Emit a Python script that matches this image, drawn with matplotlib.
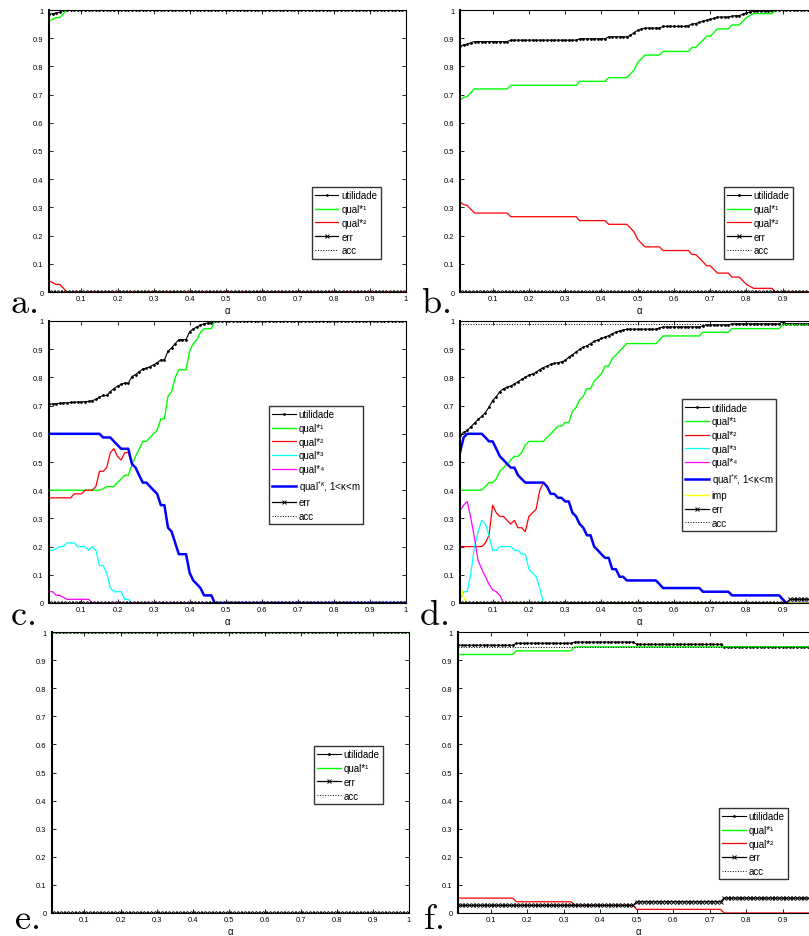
import matplotlib
matplotlib.use("Agg")
import matplotlib.pyplot as plt
import numpy as np

plt.rcParams["font.family"] = ["Liberation Sans", "DejaVu Sans"]
plt.rcParams["mathtext.fontset"] = "custom"
plt.rcParams["mathtext.rm"] = "Liberation Sans"
plt.rcParams["mathtext.it"] = "Liberation Sans:italic"
plt.rcParams["mathtext.bf"] = "Liberation Sans:bold"

# alpha values 0.01 ... 1.00, shared by all six runs
alpha = np.arange(1, 101) / 100.0

# a.
a_util = [0.986, 0.986, 0.99, 0.992] + [1.0] * 96
a_q1 = [0.96, 0.967, 0.973, 0.973, 0.987] + [1.0] * 95
a_q2 = [0.04, 0.033, 0.027, 0.027, 0.013] + [0.0] * 95
a_err = [0.0] * 100
a_acc = [1.0] * 100

# b.
b_util = ([0.872, 0.876, 0.878, 0.884] + [0.888] * 10 + [0.893] * 19 + [0.898] * 8
          + [0.905] * 6 + [0.91, 0.92, 0.928, 0.932] + [0.936] * 5 + [0.942] * 7
          + [0.945, 0.95, 0.952, 0.956, 0.96, 0.964, 0.967, 0.97] + [0.975] * 4
          + [0.978, 0.98, 0.98, 0.985, 0.99, 0.993] + [0.996] * 6 + [1.0] * 13)
b_q1 = ([0.68, 0.69, 0.693, 0.707] + [0.72] * 10 + [0.733] * 19 + [0.747] * 8
        + [0.76] * 6 + [0.773, 0.787, 0.813, 0.827] + [0.84] * 5 + [0.853] * 8
        + [0.867, 0.867, 0.88, 0.893, 0.907, 0.907, 0.92] + [0.933] * 4 + [0.947] * 3
        + [0.96, 0.973, 0.98] + [0.987] * 6 + [1.0] * 13)
b_q2 = ([0.32, 0.31, 0.307, 0.293] + [0.28] * 10 + [0.267] * 19 + [0.253] * 8
        + [0.24] * 6 + [0.227, 0.213, 0.187, 0.173] + [0.16] * 5 + [0.147] * 8
        + [0.133, 0.133, 0.12, 0.107, 0.093, 0.093, 0.08] + [0.067] * 4 + [0.053] * 3
        + [0.04, 0.027, 0.02] + [0.013] * 6 + [0.0] * 13)
b_err = [0.0] * 100
b_acc = [1.0] * 100

# c.
c_util = [0.705, 0.706, 0.707, 0.708, 0.71, 0.71, 0.711, 0.712, 0.713, 0.713,
          0.714, 0.715, 0.718, 0.722, 0.73, 0.736, 0.736, 0.75, 0.76, 0.769,
          0.775, 0.78, 0.78, 0.803, 0.81, 0.82, 0.83, 0.832, 0.838, 0.845,
          0.852, 0.862, 0.862, 0.893, 0.905, 0.92, 0.934, 0.934, 0.934, 0.962,
          0.972, 0.979, 0.985, 0.99, 0.993, 0.993] + [1.0] * 54
c_q1 = [0.4] * 15 + [0.405, 0.413, 0.413, 0.413, 0.427, 0.44, 0.453, 0.453, 0.49, 0.52,
                     0.545, 0.573, 0.573, 0.587, 0.6, 0.613, 0.653, 0.653, 0.733, 0.75,
                     0.8, 0.827, 0.827, 0.827, 0.893, 0.92, 0.933, 0.96, 0.973, 0.973,
                     0.973] + [1.0] * 54
c_k = [0.6] * 15 + [0.587, 0.587, 0.587, 0.573, 0.56, 0.547, 0.547, 0.547, 0.493, 0.48,
                    0.453, 0.427, 0.427, 0.413, 0.4, 0.387, 0.347, 0.347, 0.267, 0.253,
                    0.213, 0.173, 0.173, 0.173, 0.107, 0.08, 0.067, 0.053, 0.027, 0.027,
                    0.027] + [0.0] * 54
c_q2 = ([0.373] * 7 + [0.387] * 3 + [0.4] * 3
        + [0.413, 0.467, 0.467, 0.48, 0.533, 0.547, 0.52, 0.507, 0.533, 0.533] + c_k[23:])
c_q3 = [0.187, 0.187, 0.193, 0.2, 0.2, 0.213, 0.213, 0.213, 0.2, 0.2, 0.2, 0.187,
        0.2, 0.187, 0.133, 0.133, 0.107, 0.053, 0.04, 0.04, 0.04, 0.013, 0.013] + [0.0] * 77
c_q4 = [0.04, 0.04, 0.027, 0.027, 0.02] + [0.013] * 7 + [0.0] * 88
c_err = [0.0] * 100
c_acc = [1.0] * 100

# d.
d_util = ([0.595, 0.605, 0.612, 0.625, 0.638, 0.651, 0.662, 0.675, 0.695, 0.718,
           0.732, 0.75, 0.76, 0.765, 0.77, 0.776, 0.785, 0.793, 0.8, 0.808,
           0.812, 0.818, 0.828, 0.835, 0.84, 0.846, 0.85, 0.852, 0.855, 0.86,
           0.872, 0.88, 0.89, 0.9, 0.908, 0.912, 0.92, 0.928, 0.933, 0.938,
           0.943, 0.948, 0.955, 0.96, 0.965, 0.968]
          + [0.971] * 9 + [0.975] + [0.979] * 11 + [0.983] + [0.986] * 7
          + [0.99] * 14 + [0.998] + [0.99] * 10)
d_q1 = ([0.4] * 7 + [0.413, 0.427, 0.427, 0.44, 0.467, 0.48, 0.493, 0.507, 0.52, 0.52,
                     0.533, 0.56, 0.573] + [0.573] * 4
        + [0.587, 0.6, 0.613, 0.627, 0.627, 0.64, 0.64, 0.68, 0.693, 0.72, 0.733,
           0.76, 0.76, 0.787, 0.8, 0.813, 0.84, 0.84, 0.867, 0.88, 0.893, 0.907]
        + [0.92] * 9 + [0.933] + [0.947] * 11 + [0.96] * 8 + [0.973] * 14 + [0.987] * 11)
d_k = ([0.533, 0.587] + [0.6] * 5
       + [0.587, 0.573, 0.573, 0.547, 0.52, 0.507, 0.493, 0.48, 0.48, 0.453, 0.44]
       + [0.427] * 6
       + [0.413, 0.387, 0.387, 0.373, 0.373, 0.36, 0.36, 0.32, 0.307, 0.28, 0.267,
          0.24, 0.24, 0.2, 0.187, 0.173, 0.16, 0.16, 0.12, 0.12, 0.093, 0.093]
       + [0.08] * 9 + [0.067] + [0.053] * 11 + [0.04] * 8 + [0.027] * 14 + [0.013] + [0.0] * 10)
d_q2 = ([0.2] * 7 + [0.213, 0.24, 0.347, 0.32, 0.307, 0.307, 0.293, 0.28, 0.293, 0.267,
                     0.267, 0.253, 0.307, 0.32, 0.333, 0.4, 0.427] + d_k[24:])
d_q3 = [0.013, 0.04, 0.04, 0.107, 0.2, 0.253, 0.293, 0.28, 0.24, 0.187, 0.187, 0.2,
        0.2, 0.2, 0.2, 0.187, 0.187, 0.173, 0.173, 0.12, 0.107, 0.093, 0.053] + [0.0] * 77
d_q4 = [0.327, 0.347, 0.36, 0.30, 0.23, 0.15, 0.12, 0.093, 0.067, 0.047, 0.04, 0.027] + [0.0] * 88
d_imp = [0.067, 0.02] + [0.0] * 98
d_err = [0.0] * 91 + [0.013] * 9
d_acc = [0.99] * 100

# e.
e_util = [1.0] * 100
e_q1 = [1.0] * 100
e_err = [0.0] * 100
e_acc = [1.0] * 100

# f.
f_util = [0.953] * 16 + [0.96] * 16 + [0.964] * 17 + [0.956] * 24 + [0.947] * 27
f_q1 = [0.92] * 16 + [0.933] * 16 + [0.947] * 68
f_q2 = [0.053] * 16 + [0.04] * 16 + [0.027] * 17 + [0.013] * 24 + [0.0] * 27
f_err = [0.027] * 49 + [0.04] * 24 + [0.053] * 27
f_acc = [0.947] * 100

x_ticks = [0.1, 0.2, 0.3, 0.4, 0.5, 0.6, 0.7, 0.8, 0.9, 1]
y_ticks = [0, 0.1, 0.2, 0.3, 0.4, 0.5, 0.6, 0.7, 0.8, 0.9, 1]

styles = {
    "util": dict(color="k", lw=0.8, marker=".", ms=2.0, label="utilidade"),
    "q1": dict(color=(0, 1, 0), lw=1.0, label="qual*\u00b9"),
    "q2": dict(color=(1, 0, 0), lw=0.9, label="qual*\u00b2"),
    "q3": dict(color=(0, 1, 1), lw=0.9, label="qual*\u00b3"),
    "q4": dict(color=(1, 0, 1), lw=0.9, label="qual*\u2074"),
    "k": dict(color=(0, 0, 1), lw=1.8, label=r"qual$^{*κ}$, 1<κ<m"),
    "imp": dict(color=(1, 1, 0), lw=1.0, label="imp"),
    "err": dict(color="k", lw=0.9, marker="x", ms=2.4, mew=0.7, label="err"),
    "acc": dict(color="k", lw=0.7, ls=":", label="acc"),
}


def panel(rect, letter, letter_xy, curves, anchor, clipped=False):
    ax = fig.add_axes(rect)
    for key, vals in curves:
        assert len(vals) == 100, (letter, key, len(vals))
        ax.plot(alpha, vals, **styles[key])
    ax.set_xlim(0.01, 1)
    ax.set_ylim(0, 1)
    ax.set_xticks(x_ticks)
    xlabels = ["%g" % t for t in x_ticks]
    if clipped:
        # the last label falls past the right edge of the figure
        xlabels[-1] = ""
    ax.set_xticklabels(xlabels)
    ax.set_yticks(y_ticks)
    ax.set_yticklabels(["%g" % t for t in y_ticks])
    ax.tick_params(direction="in", top=True, right=True, length=3, width=0.6,
                   labelsize=5.4)
    ax.tick_params(axis="y", pad=4)
    ax.tick_params(axis="x", pad=2.5)
    for side in ax.spines:
        ax.spines[side].set_linewidth(0.8)
    ax.spines["left"].set_linewidth(1.5)
    ax.set_xlabel("α", fontsize=7, labelpad=1.5)
    leg = ax.legend(loc="upper left", bbox_to_anchor=anchor, borderaxespad=0,
                    fontsize=7, frameon=True, fancybox=False, handlelength=2.4,
                    handletextpad=0.3, labelspacing=0.38, borderpad=0.35,
                    numpoints=1)
    leg.get_frame().set_edgecolor("k")
    leg.get_frame().set_linewidth(1.0)
    fig.text(letter_xy[0] / W, 1 - letter_xy[1] / H, r"$\mathrm{%s.}$" % letter,
             math_fontfamily="cm", fontsize=26, va="baseline", ha="left")
    return ax


W, H = 809, 937
fig = plt.figure(figsize=(W / 100, H / 100), dpi=100)


def box(left, right, top, bottom):
    return [left / W, 1 - bottom / H, (right - left) / W, (bottom - top) / H]


panel(box(49, 406, 11, 293), "a", (10, 313),
      [("util", a_util), ("q1", a_q1), ("q2", a_q2), ("err", a_err), ("acc", a_acc)],
      (0.736, 0.372))
panel(box(460, 819, 11, 293), "b", (421, 313),
      [("util", b_util), ("q1", b_q1), ("q2", b_q2), ("err", b_err), ("acc", b_acc)],
      (0.735, 0.372), clipped=True)
panel(box(49, 406, 322, 604), "c", (10, 625),
      [("util", c_util), ("q1", c_q1), ("q2", c_q2), ("q3", c_q3), ("q4", c_q4),
       ("k", c_k), ("err", c_err), ("acc", c_acc)],
      (0.616, 0.699))
panel(box(460, 819, 322, 604), "d", (419, 625),
      [("util", d_util), ("q1", d_q1), ("q2", d_q2), ("q3", d_q3), ("q4", d_q4),
       ("k", d_k), ("imp", d_imp), ("err", d_err), ("acc", d_acc)],
      (0.618, 0.723), clipped=True)
panel(box(52, 409, 633, 914), "e", (14, 929),
      [("util", e_util), ("q1", e_q1), ("err", e_err), ("acc", e_acc)],
      (0.734, 0.594))
panel(box(458, 819, 633, 914), "f", (423, 929),
      [("util", f_util), ("q1", f_q1), ("q2", f_q2), ("err", f_err), ("acc", f_acc)],
      (0.723, 0.374), clipped=True)

fig.savefig("out.png", dpi=100)
